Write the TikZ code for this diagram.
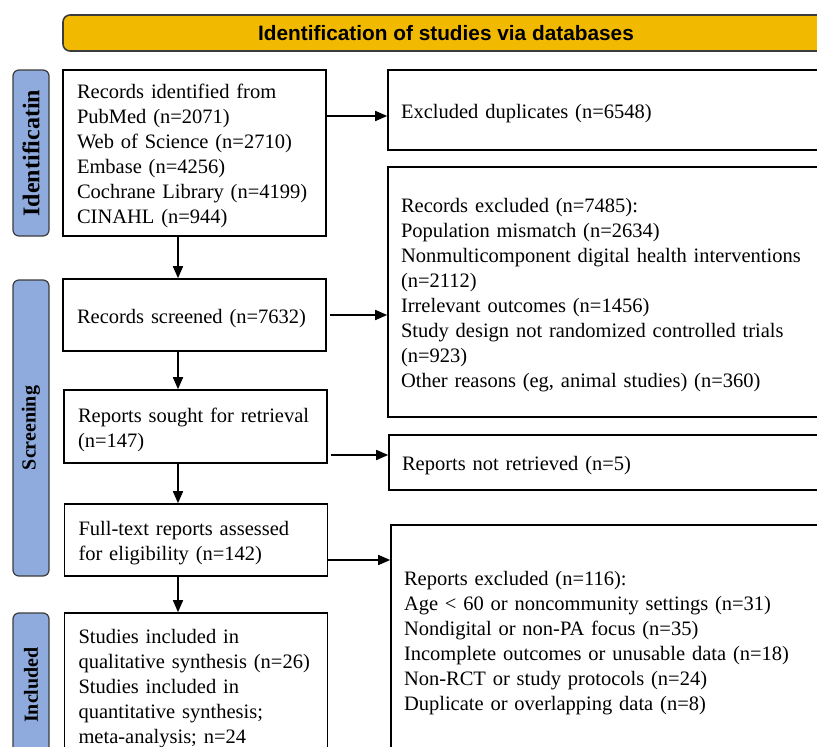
\documentclass[tikz,border=0pt]{standalone}
\usepackage{fontspec}
\setmainfont{Liberation Serif}
\newfontfamily\headfont{Liberation Sans}
\usetikzlibrary{arrows.meta}
\definecolor{bannerfill}{RGB}{241,186,0}
\definecolor{stagefill}{RGB}{143,170,220}
\definecolor{edgegray}{RGB}{60,60,60}

\begin{document}
\begin{tikzpicture}[x=1pt,y=-1pt,every node/.style={black},
	txt/.style={font=\fontsize{20.5}{25}\selectfont,execute at begin node={\rule{0pt}{20.5pt}}},
	lbox/.style={txt,draw,line width=1.6pt,align=left,inner xsep=14pt,inner ysep=0pt,text width=235pt},
	rbox/.style={txt,draw,line width=1.6pt,align=left,inner xsep=13pt,inner ysep=0pt,text width=436pt},
	stage/.style={draw=edgegray,fill=stagefill,line width=1.2pt,rounded corners=6pt,rotate=90,minimum height=36pt,inner sep=0pt,font=\bfseries\fontsize{20}{24}\selectfont},
	arr/.style={line width=1.6pt,-{Triangle[length=12pt,width=10pt]}}]
	\useasboundingbox (0,0) rectangle (817,747);
	\clip (0,0) rectangle (817,747);

%	x in px from the left, y in px from the top
	\coordinate (colx) at (178,0);

	\node[draw=edgegray,fill=bannerfill,line width=1.6pt,rounded corners=7pt,minimum width=766pt,minimum height=36pt,inner sep=0pt,font=\headfont\bfseries\fontsize{20.8}{25}\selectfont] (head) at (446,33) {Identification of studies via databases};

	\node[stage,minimum width=166pt,font=\bfseries\fontsize{24}{28}\selectfont] (sIdent) at (31,153) {Identificatin};
	\node[stage,minimum width=296pt] (sScreen) at (31,428) {Screening};
	\node[stage,minimum width=144pt] (sIncl) at (31,685) {Included};

	\node[lbox,minimum height=166pt] (ident) at (194.5,153) {Records identified from\\PubMed (n=2071)\\Web of Science (n=2710)\\Embase (n=4256)\\Cochrane Library (n=4199)\\CINAHL (n=944)};
	\node[lbox,minimum height=72pt] (screen) at (194.5,315) {Records screened (n=7632)};
	\node[lbox,minimum height=73pt] (sought) at (195.5,426.5) {Reports sought for retrieval\\(n=147)};
	\node[lbox,minimum height=72pt] (full) at (196,540) {Full-text reports assessed\\for eligibility (n=142)};
	\node[lbox,minimum height=144pt] (incl) at (196,685) {Studies included in\\qualitative synthesis (n=26)\\Studies included in\\quantitative synthesis;\\meta-analysis; n=24};

	\node[rbox,minimum height=80pt] (dupl) at (619,110) {Excluded duplicates (n=6548)};
	\node[rbox,minimum height=250pt] (recx) at (619,292) {Records excluded (n=7485):\\Population mismatch (n=2634)\\Nonmulticomponent digital health interventions\\(n=2112)\\Irrelevant outcomes (n=1456)\\Study design not randomized controlled trials\\(n=923)\\Other reasons (eg, animal studies) (n=360)};
	\node[rbox,minimum height=55pt] (notret) at (620,462.5) {Reports not retrieved (n=5)};
	\node[rbox,minimum height=230pt] (repx) at (622,640) {Reports excluded (n=116):\\Age < 60 or noncommunity settings (n=31)\\Nondigital or non-PA focus (n=35)\\Incomplete outcomes or unusable data (n=18)\\Non-RCT or study protocols (n=24)\\Duplicate or overlapping data (n=8)};

	\draw[arr] (ident.south -| colx) -- (screen.north -| colx);
	\draw[arr] (screen.south -| colx) -- (sought.north -| colx);
	\draw[arr] (sought.south -| colx) -- (full.north -| colx);
	\draw[arr] (full.south -| colx) -- (incl.north -| colx);

	\coordinate (a1) at ([yshift=-6pt]dupl.west);
	\coordinate (a3) at ([yshift=7.5pt]notret.west);
	\coordinate (a4) at ([yshift=-20pt]full.east);
	\draw[arr] (a1 -| ident.east) -- (a1);
	\draw[arr,shorten <=3pt] (screen.east) -- (screen.east -| recx.west);
	\draw[arr,shorten <=3pt] (a3 -| sought.east) -- (a3);
	\draw[arr] (a4) -- (a4 -| repx.west);
\end{tikzpicture}
\end{document}
